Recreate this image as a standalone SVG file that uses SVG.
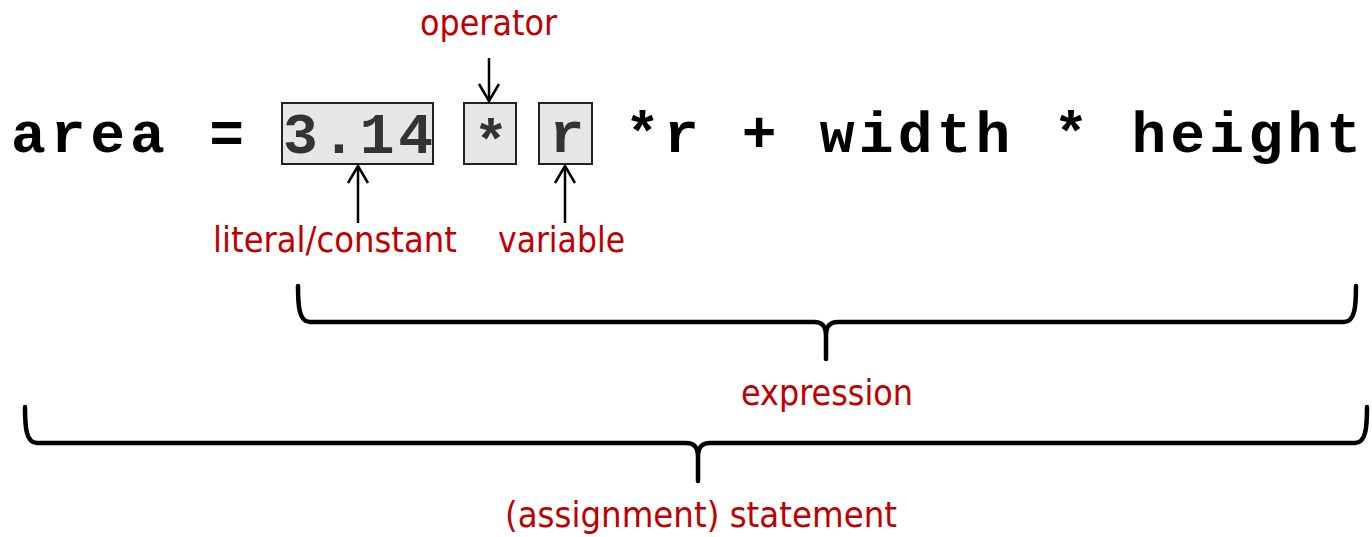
<svg xmlns="http://www.w3.org/2000/svg" width="1372" height="537" viewBox="0 0 1372 537">
  <style>
    .code { font-family: "Liberation Mono", "Courier New", monospace; font-weight: bold; font-size: 58px; fill: #000; }
    .boxed { fill: #333; }
    .box { fill: #e6e6e6; stroke: #222; stroke-width: 2; }
    .label { font-family: "DejaVu Sans", "Liberation Sans", sans-serif; font-size: 35px; fill: #c00000; }
    .arrow { stroke: #000; stroke-width: 2.5; fill: none; marker-end: url(#open-head); }
    .brace { stroke: #000; stroke-width: 4.5; fill: none; stroke-linecap: round; stroke-linejoin: round; }
  </style>
  <defs>
    <marker id="open-head" markerUnits="userSpaceOnUse" orient="auto" viewBox="-20 -12 23 24" refX="0" refY="0" markerWidth="23" markerHeight="24">
      <path d="M-17,-10 L0,0 L-17,10" fill="none" stroke="#000" stroke-width="2.5"/>
    </marker>
  </defs>

  <rect width="1372" height="537" fill="#fff"/>

  <!-- the statement itself -->
  <g id="code">
    <text class="code" x="11" y="152" textLength="233" lengthAdjust="spacing">area =</text>
    <text class="code" x="625" y="152" textLength="736" lengthAdjust="spacing">*r + width * height</text>
  </g>

  <g id="literal-box">
    <rect class="box" x="282" y="103" width="151" height="61"/>
    <text class="code boxed" x="358" y="153" text-anchor="middle" textLength="150" lengthAdjust="spacing">3.14</text>
  </g>
  <g id="operator-box">
    <rect class="box" x="464" y="103" width="52" height="61"/>
    <text class="code boxed" x="491" y="160" text-anchor="middle">*</text>
  </g>
  <g id="variable-box">
    <rect class="box" x="539" y="103" width="53" height="61"/>
    <text class="code boxed" x="567" y="152" text-anchor="middle">r</text>
  </g>

  <!-- labels -->
  <g id="operator-label">
    <text class="label" x="420" y="35" textLength="137" lengthAdjust="spacingAndGlyphs">operator</text>
  </g>
  <g id="literal-label">
    <text class="label" x="213" y="252" textLength="244" lengthAdjust="spacingAndGlyphs">literal/constant</text>
  </g>
  <g id="variable-label">
    <text class="label" x="498" y="252" textLength="127" lengthAdjust="spacingAndGlyphs">variable</text>
  </g>
  <g id="expression-label">
    <text class="label" x="741" y="405" textLength="172" lengthAdjust="spacingAndGlyphs">expression</text>
  </g>
  <g id="statement-label">
    <text class="label" x="505" y="527" textLength="392" lengthAdjust="spacingAndGlyphs">(assignment) statement</text>
  </g>

  <!-- pointers and braces -->
  <g id="connectors">
    <line class="arrow" x1="489" y1="58" x2="489" y2="101"/>
    <line class="arrow" x1="358" y1="223" x2="358" y2="166"/>
    <line class="arrow" x1="565" y1="223" x2="565" y2="166"/>
    <path class="brace" d="M298,286 C298,306 299,322 310,322 L814,322 C822,322 826,326 826,336 L826,359 M826,336 C826,326 830,322 838,322 L1344,322 C1355,322 1356,306 1356,286"/>
    <path class="brace" d="M25,407 C25,427 26,443 37,443 L686,443 C694,443 698,447 698,457 L698,481 M698,457 C698,447 702,443 710,443 L1355,443 C1366,443 1367,427 1367,407"/>
  </g>
</svg>
